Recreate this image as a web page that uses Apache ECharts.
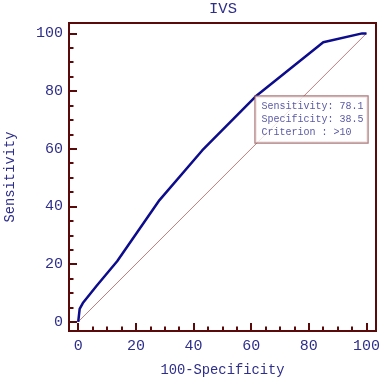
<!DOCTYPE html>
<html>
<head>
<meta charset="utf-8">
<script src="https://cdn.jsdelivr.net/npm/echarts@6/dist/echarts.min.js"></script>
<style>html,body{margin:0;padding:0;background:#fff}#c{width:383px;height:383px}</style>
</head>
<body>
<div id="c"></div>
<script>
// ---- data ----
const title = 'IVS';
const xName = '100-Specificity';
const yName = 'Sensitivity';
const rocX = [0, 0.5, 1.6, 6.4, 13.5, 28.2, 43, 61.5, 85, 98.5, 100];
const rocY = [0, 4.5, 6.5, 12.5, 21, 42.2, 59.4, 78.1, 96.9, 100, 100];
const refX = [0, 100];
const refY = [0, 100];
const majorTicks = [0, 20, 40, 60, 80, 100];
const minorTicks = [5, 10, 15, 25, 30, 35, 45, 50, 55, 65, 70, 75, 85, 90, 95];
const infoPoint = [61.5, 78.1];
const infoLines = ['Sensitivity: 78.1', 'Specificity: 38.5', 'Criterion : >10'];

// ---- styles ----
const axisColor = '#5a0a0a';
const textColor = '#2e2e8c';
const mono = 'Liberation Mono';
const xMin = -3.2, xMax = 103.3, yMin = -3.2, yMax = 103.6;

function pairs(xs, ys) { return xs.map((v, i) => [v, ys[i]]); }

function makeAxis(kind, isMinor) {
  const isX = kind === 'x';
  return {
    type: 'value',
    gridIndex: 0,
    position: isX ? 'bottom' : 'left',
    min: isX ? xMin : yMin,
    max: isX ? xMax : yMax,
    name: isMinor ? '' : (isX ? xName : yName),
    nameLocation: 'middle',
    nameGap: isX ? 32 : 52,
    nameRotate: isX ? 0 : 90,
    nameTextStyle: { fontFamily: mono, fontSize: 13.8, color: textColor },
    axisLine: { show: !isMinor, onZero: false, lineStyle: { color: axisColor, width: 2 } },
    axisTick: {
      show: true, inside: true, length: isMinor ? 4.5 : 8,
      customValues: isMinor ? minorTicks : majorTicks,
      lineStyle: { color: axisColor, width: 2 }
    },
    axisLabel: {
      show: !isMinor,
      customValues: majorTicks,
      fontFamily: mono, fontSize: 15, color: textColor,
      margin: isX ? 8 : 6
    },
    splitLine: { show: false },
    minorTick: { show: false }
  };
}

const chart = echarts.init(document.getElementById('c'), null, { renderer: 'canvas' });
chart.setOption({
  animation: false,
  backgroundColor: '#fff',
  title: {
    text: title, left: 223, top: 1, padding: 0, textAlign: 'center',
    textStyle: { fontFamily: mono, fontSize: 15.5, fontWeight: 'normal', color: textColor }
  },
  grid: {
    left: 69, top: 23, width: 307, height: 308,
    containLabel: false, outerBoundsMode: 'none',
    show: true, borderColor: axisColor, borderWidth: 2, backgroundColor: '#fff'
  },
  xAxis: [makeAxis('x', false), makeAxis('x', true)],
  yAxis: [makeAxis('y', false), makeAxis('y', true)],
  series: [
    {
      type: 'line', xAxisIndex: 0, yAxisIndex: 0,
      data: pairs(refX, refY), symbol: 'none',
      lineStyle: { color: '#b88080', width: 1 }, z: 2
    },
    {
      type: 'line', xAxisIndex: 0, yAxisIndex: 0,
      data: pairs(rocX, rocY), symbol: 'none',
      lineStyle: { color: '#0c0c8c', width: 2.5 }, z: 3
    },
    {
      type: 'scatter', xAxisIndex: 0, yAxisIndex: 0,
      data: [infoPoint], symbolSize: 0, z: 5,
      label: {
        show: true, position: [0, 0], align: 'left', verticalAlign: 'top',
        formatter: infoLines.join('\n'),
        fontFamily: mono, fontSize: 10, color: textColor, lineHeight: 13.3,
        backgroundColor: '#fff', borderColor: '#9a5a5a', borderWidth: 1.2,
        padding: [3, 4, 3, 6]
      }
    }
  ]
});
</script>
</body>
</html>
